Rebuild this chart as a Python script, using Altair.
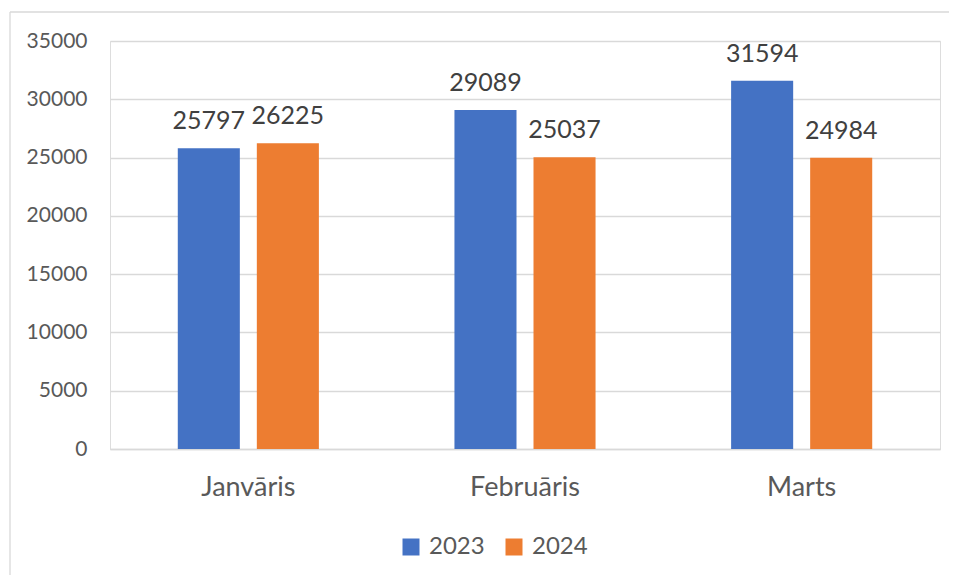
import altair as alt
import pandas as pd

months = ["Janvāris", "Februāris", "Marts"]
values_2023 = [25797, 29089, 31594]
values_2024 = [26225, 25037, 24984]
years = ["2023", "2024"]
colors = ["#4472C4", "#ED7D31"]
y_ticks = [0, 5000, 10000, 15000, 20000, 25000, 30000, 35000]

rows = []
for m, a, b in zip(months, values_2023, values_2024):
    rows.append({"month": m, "year": years[0], "value": a})
    rows.append({"month": m, "year": years[1], "value": b})
df = pd.DataFrame(rows)

FONT = "Lato"

x_enc = alt.X(
    "month:N",
    sort=months,
    scale=alt.Scale(paddingInner=0.49, paddingOuter=0.245),
    axis=alt.Axis(
        title=None,
        labelAngle=0,
        labelFontSize=27,
        labelColor="#595959",
        labelFont=FONT,
        labelBaseline="alphabetic",
        labelPadding=46,
        ticks=False,
        tickSize=0,
        domainColor="#d9d9d9",
        domainWidth=1.3,
        grid=False,
    ),
)
xoff = alt.XOffset("year:N", sort=years, scale=alt.Scale(paddingInner=0.215, paddingOuter=0))
y_enc = alt.Y(
    "value:Q",
    scale=alt.Scale(domain=[0, 35000], nice=False),
    axis=alt.Axis(
        title=None,
        values=y_ticks,
        format="d",
        labelFontSize=21,
        labelColor="#595959",
        labelFont=FONT,
        labelPadding=23,
        domain=False,
        ticks=False,
        tickSize=0,
        grid=True,
        gridColor="#d9d9d9",
        gridWidth=1.3,
    ),
)

bars = alt.Chart(df).mark_bar().encode(
    x=x_enc,
    xOffset=xoff,
    y=y_enc,
    color=alt.Color(
        "year:N",
        sort=years,
        scale=alt.Scale(domain=years, range=colors),
        legend=alt.Legend(
            title=None,
            orient="none",
            direction="horizontal",
            legendX=289,
            legendY=494,
            symbolType="square",
            symbolSize=289,
            symbolStrokeWidth=0,
            labelFontSize=24,
            labelFont=FONT,
            labelColor="#595959",
            labelOffset=6,
            columnPadding=17,
            padding=0,
        ),
    ),
)

labels = alt.Chart(df).mark_text(
    baseline="alphabetic", dy=-19, fontSize=25, font=FONT, color="#404040"
).encode(
    x=alt.X("month:N", sort=months),
    xOffset=alt.XOffset("year:N", sort=years),
    y="value:Q",
    text="value:Q",
)

one = pd.DataFrame({"a": [0]})
border_left = alt.Chart(one).mark_rule(color="#d9d9d9", strokeWidth=1.3).encode(
    x=alt.value(-100), y=alt.value(-29), y2=alt.value(560)
)
border_top = alt.Chart(one).mark_rule(color="#d9d9d9", strokeWidth=1.3).encode(
    x=alt.value(-100), x2=alt.value(860), y=alt.value(-29)
)

chart = (
    alt.layer(border_left, border_top, bars, labels)
    .properties(
        width=830,
        height=408,
        autosize=alt.AutoSizeParams(type="none"),
        padding={"left": 102, "top": 33, "right": 9, "bottom": 126},
    )
    .configure_view(stroke=None)
    .configure(background="white")
)

chart.save("out.html", embed_options={"renderer": "svg", "actions": False})
